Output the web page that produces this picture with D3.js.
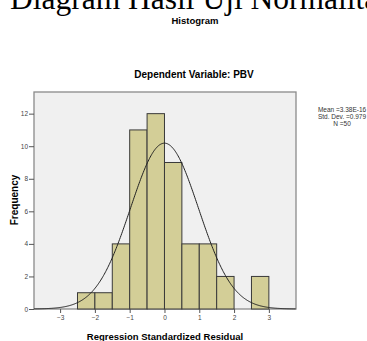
<!DOCTYPE html>
<html><head><meta charset="utf-8">
<script src="https://cdn.jsdelivr.net/npm/d3@7"></script>
<style>body{margin:0;background:#fff;}svg{display:block;}</style>
</head><body>
<svg id="c" width="367" height="341"></svg>
<script>
const binStarts = [-2.5,-2.0,-1.5,-1.0,-0.5,0.0,0.5,1.0,1.5,2.0,2.5];
const binCounts = [1,1,4,11,12,9,4,4,2,0,2];
const binWidth = 0.5;
const xTicks = [-3,-2,-1,0,1,2,3];
const yTicks = [0,2,4,6,8,10,12];
const statMean = 3.38e-16, statSD = 0.979, statN = 50;
const statLabels = ["Mean =3.38E-16","Std. Dev. =0.979","N =50"];

const svg = d3.select("#c");
const L=34, R=296, T=92, B=309;
const x = d3.scaleLinear().domain([-3.75,3.78]).range([L,R]);
const y = d3.scaleLinear().domain([0,13.33]).range([B,T]);

// cropped heading (cut off at top in the reference)
svg.append("text").attr("x",10).attr("y",9).attr("font-family","Liberation Serif, Times New Roman, serif")
  .attr("font-size",31.5).attr("fill","#000").text("Diagram Hasil Uji Normalitas");

svg.append("text").attr("x",195).attr("y",24).attr("text-anchor","middle")
  .attr("font-family","Liberation Sans, Arial, sans-serif").attr("font-weight","bold").attr("font-size",9.5).text("Histogram");
svg.append("text").attr("x",194).attr("y",78).attr("text-anchor","middle")
  .attr("font-family","Liberation Sans, Arial, sans-serif").attr("font-weight","bold").attr("font-size",10).text("Dependent Variable: PBV");

svg.append("rect").attr("x",L).attr("y",T).attr("width",R-L).attr("height",B-T)
  .attr("fill","#f0f0f0").attr("stroke","#8a8a8a").attr("stroke-width",1.3);

const data = binStarts.map((s,i)=>({s, c:binCounts[i]})).filter(d=>d.c>0);
svg.append("g").selectAll("rect").data(data).join("rect")
  .attr("x",d=>x(d.s)).attr("y",d=>y(d.c))
  .attr("width",d=>x(d.s+binWidth)-x(d.s)).attr("height",d=>y(0)-y(d.c))
  .attr("fill","#d3ce97").attr("stroke","#3a3a3a").attr("stroke-width",1);

// fitted normal curve from stated mean / sd / N
const xs = d3.range(-3.75,3.781,0.02);
const pdf = v => statN*binWidth/(statSD*Math.sqrt(2*Math.PI))*Math.exp(-0.5*((v-statMean)/statSD)**2);
svg.append("path").attr("d", d3.line().x(v=>x(v)).y(v=>y(pdf(v))).curve(d3.curveBasis)(xs))
  .attr("fill","none").attr("stroke","#222").attr("stroke-width",1);

// axes
const ax = svg.append("g").attr("transform",`translate(0,${B})`)
  .call(d3.axisBottom(x).tickValues(xTicks).tickSize(4).tickPadding(2).tickFormat(d3.format("d")));
const ay = svg.append("g").attr("transform",`translate(${L},0)`)
  .call(d3.axisLeft(y).tickValues(yTicks).tickSize(5).tickPadding(1).tickFormat(d3.format("d")));
[ax,ay].forEach(g=>{
  g.select(".domain").remove();
  g.selectAll(".tick line").attr("stroke","#555");
  g.selectAll(".tick text").attr("font-family","Liberation Sans, Arial, sans-serif").attr("font-size",6.5).attr("fill","#444");
});

svg.append("text").attr("transform","translate(18,200) rotate(-90)").attr("text-anchor","middle")
  .attr("font-family","Liberation Sans, Arial, sans-serif").attr("font-weight","bold").attr("font-size",10).text("Frequency");
svg.append("text").attr("x",165).attr("y",340).attr("text-anchor","middle")
  .attr("font-family","Liberation Sans, Arial, sans-serif").attr("font-weight","bold").attr("font-size",9.5).text("Regression Standardized Residual");

svg.append("g").selectAll("text").data(statLabels).join("text")
  .attr("x",342).attr("y",(d,i)=>112+i*7).attr("text-anchor","middle")
  .attr("font-family","Liberation Sans, Arial, sans-serif").attr("font-size",6.5).attr("fill","#333").text(d=>d);
</script>
</body></html>
